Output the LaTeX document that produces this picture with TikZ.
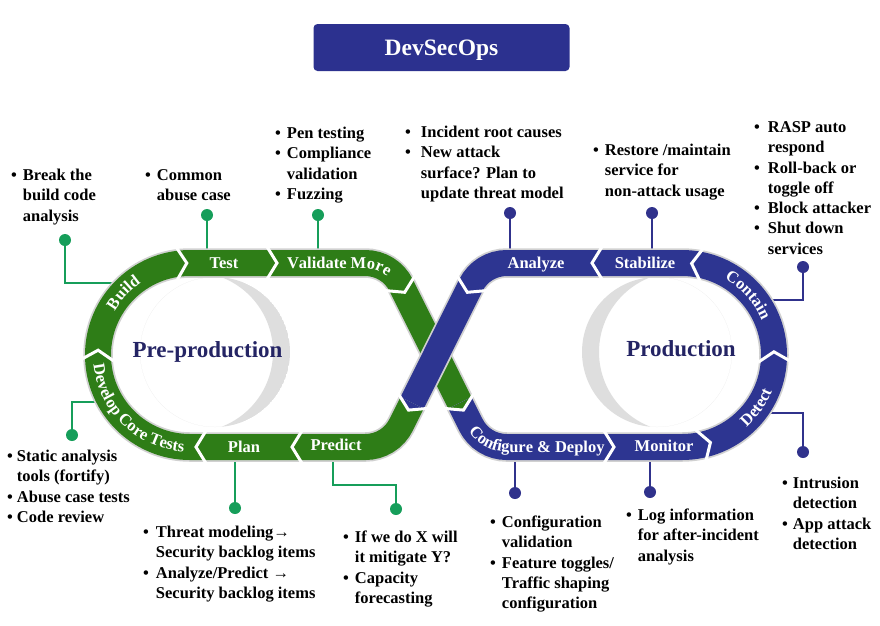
\documentclass[tikz,border=0pt]{standalone}
\usepackage{fontspec}
\setmainfont{Liberation Serif}
\usetikzlibrary{decorations.text}

\definecolor{bandgreen}{RGB}{46,125,23}
\definecolor{bandblue}{RGB}{45,53,145}
\definecolor{titleblue}{RGB}{44,49,143}
\definecolor{navytext}{RGB}{36,36,100}
\definecolor{calloutgreen}{RGB}{22,158,90}
\definecolor{calloutblue}{RGB}{48,50,140}

\newcommand{\bandfont}{\fontsize{16.5}{20}\selectfont\bfseries}
\newcommand{\notefont}{\fontsize{16.5}{20.3}\selectfont\bfseries}
% white chevron-shaped cut between two band pieces (tip point, flow direction)
\newcommand{\chevgap}[2]{\draw[gapline, shift={(#1)}, rotate={-(#2)}] (-9.85,16) -- (0,0) -- (-9.85,-16);}
% arrow tip of a band piece where the colour changes
\newcommand{\chevtip}[3]{\fill[#3, shift={(#1)}, rotate={-(#2)}] (-8,13) -- (0,0) -- (-8,-13) -- cycle;}
\newcommand{\bulletlist}[2]{\begin{tabular}{@{}l@{\hspace{#1}}l@{}}#2\end{tabular}}
\newcommand{\amp}{\&}

\tikzset{
  titlebox/.style={fill=titleblue, rounded corners=4pt, minimum width=256pt,
    minimum height=47pt, inner sep=0pt, text=white,
    font=\fontsize{23.5}{26}\selectfont\bfseries, text height=15pt, text depth=0pt},
  ring/.style={fill=black!13},
  greenloop/.style={draw=bandgreen, line width=26pt,
    preaction={draw=black!18, line width=29.5pt}},
  blueloop/.style={draw=bandblue, line width=26pt,
    preaction={draw=black!18, line width=29.5pt}},
  gapline/.style={draw=white, line width=3pt, line join=miter},
  bandlabel/.style={text=white, font=\bandfont, inner sep=0pt, anchor=base},
  phaselabel/.style={text=navytext, font=\fontsize{23}{26}\selectfont\bfseries,
    inner sep=0pt, anchor=base},
  gline/.style={draw=calloutgreen, line width=2pt},
  bline/.style={draw=calloutblue, line width=2pt},
  gdot/.style={circle, fill=calloutgreen, minimum size=12pt, inner sep=0pt},
  bdot/.style={circle, fill=calloutblue, minimum size=12pt, inner sep=0pt},
  note/.style={font=\notefont, inner sep=0pt, anchor=north west},
}

\begin{document}
\begin{tikzpicture}[x=1pt,y=-1pt]
\useasboundingbox (0,0) rectangle (880,625);
\fill[white] (0,0) rectangle (880,625);

% title
\node[titlebox] (title) at (441.5,47.5) {DevSecOps};

% grey crescents inside both loops
\begin{scope}
  \clip (215,352) circle[radius=75];
  \fill[ring, even odd rule] (215,352) circle[radius=75] (193,352) circle[radius=80];
\end{scope}
\begin{scope}
  \clip (657,352) circle[radius=75];
  \fill[ring, even odd rule] (657,352) circle[radius=75] (679,352) circle[radius=80];
\end{scope}

% callout dots
\node[gdot] (dBuild) at (65,240) {};
\node[gdot] (dTest) at (207,215) {};
\node[gdot] (dValidate) at (318,215) {};
\node[bdot] (dAnalyze) at (510,213) {};
\node[bdot] (dStabilize) at (652,213) {};
\node[bdot] (dContain) at (803,267) {};
\node[bdot] (dDetect) at (803,452) {};
\node[bdot] (dMonitor) at (650,492) {};
\node[bdot] (dConfigure) at (515,493) {};
\node[gdot] (dPredict) at (396,509) {};
\node[gdot] (dPlan) at (235,508) {};
\node[gdot] (dDevelop) at (72,435) {};

% where the callout lines meet the loop
\coordinate (aBuild) at (118,283);
\coordinate (aTest) at (207,258);
\coordinate (aValidate) at (318,258);
\coordinate (aAnalyze) at (510,258);
\coordinate (aStabilize) at (652,258);
\coordinate (aContain) at (765,300);
\coordinate (aDetect) at (765,413);
\coordinate (aMonitor) at (650,452);
\coordinate (aConfigure) at (515,452);
\coordinate (aPredict) at (333,452);
\coordinate (aPlan) at (235,452);
\coordinate (aDevelop) at (102,402);

% callout lines (they tuck under the loop)
\draw[gline] (aBuild) -| (dBuild);
\draw[gline] (aTest) -- (dTest);
\draw[gline] (aValidate) -- (dValidate);
\draw[bline] (aAnalyze) -- (dAnalyze);
\draw[bline] (aStabilize) -- (dStabilize);
\draw[bline] (aContain) -| (dContain);
\draw[bline] (aDetect) -| (dDetect);
\draw[bline] (aMonitor) -- (dMonitor);
\draw[bline] (aConfigure) -- (dConfigure);
\draw[gline] (aPredict) -- ++(0,33) -| (dPredict);
\draw[gline] (aPlan) -- (dPlan);
\draw[gline] (aDevelop) -| (dDevelop);

% pre-production loop (green)
\draw[greenloop] (412.1,402.9) -- (401.1,424.9)
  arc[start angle=26.57, end angle=90, radius=40] -- (190,447)
  arc[start angle=90, end angle=270, radius=92] -- (365.3,263)
  arc[start angle=270, end angle=333.43, radius=40] -- (459.9,402.9);

% production loop (blue), crossing over the green strand
\draw[blueloop] (459.9,402.9) -- (470.9,424.9)
  arc[start angle=153.43, end angle=90, radius=40] -- (682,447)
  arc[start angle=90, end angle=-90, radius=92] -- (506.7,263)
  arc[start angle=270, end angle=206.57, radius=40] -- (412.1,402.9);

% tips where one colour hands over to the other
\chevtip{463.5,410.1}{63.43}{bandgreen}
\chevtip{408.5,410.1}{116.57}{bandblue}

% cuts between the stages
\chevgap{408.5,410.1}{116.57}
\chevgap{292,447}{180}
\chevgap{196,447}{180}
\chevgap{98.1,350.2}{273}
\chevgap{186.8,263.1}{358}
\chevgap{277,263}{0}
\chevgap{404.7,292.3}{63.43}
\chevgap{463.5,410.1}{63.43}
\chevgap{614,447}{0}
\chevgap{710.4,442.5}{-18}
\chevgap{773.9,351.8}{-92}
\chevgap{691.6,263.5}{-174}
\chevgap{592,263}{180}
\chevgap{467.3,292.3}{116.57}

% stage names
\node[bandlabel] (lTest) at (224,268.5) {Test};
\node[bandlabel] (lPlan) at (244,452.5) {Plan};
\node[bandlabel] (lPredict) at (336,450) {Predict};
\node[bandlabel] (lAnalyze) at (536,268.5) {Analyze};
\node[bandlabel] (lStabilize) at (645,268.5) {Stabilize};
\node[bandlabel] (lMonitor) at (664,451) {Monitor};

\path[decorate, decoration={text along path,
    text={|\bandfont\color{white}|Validate More}, text align={left, left indent=1pt}}]
  (286,268.5) -- (365.3,268.5) arc[start angle=270, end angle=335, radius=34.5];
\path[decorate, decoration={text along path,
    text={|\bandfont\color{white}|Build}, text align=center}]
  ([shift={(190,355)}]200:87) arc[start angle=200, end angle=246, radius=87];
\path[decorate, decoration={text along path,
    text={|\bandfont\color{white}|Develop Core Tests}, text align=center}]
  ([shift={(190,355)}]180:97) arc[start angle=180, end angle=88, radius=97];
\path[decorate, decoration={text along path,
    text={|\bandfont\color{white}|Contain}, text align=center}]
  ([shift={(682,355)}]-72:87) arc[start angle=-72, end angle=-12, radius=87];
\path[decorate, decoration={text along path,
    text={|\bandfont\color{white}|Detect}, text align=center}]
  ([shift={(682,355)}]60:97) arc[start angle=60, end angle=10, radius=97];
\path[decorate, decoration={text along path,
    text={|\bandfont\color{white}|Configure {\amp} Deploy}, text align={left, left indent=2pt}}]
  ([shift={(506.7,407)}]150:45) arc[start angle=150, end angle=90, radius=45] -- (625,452);

% loop names
\node[phaselabel] (pre) at (207.5,357) {Pre-production};
\node[phaselabel] (prod) at (681,356) {Production};

% callout texts
\node[note] (nBuild) at (11,166) {\bulletlist{6pt}{•&Break the\\&build code\\&analysis}};
\node[note] (nTest) at (145,166) {\bulletlist{6pt}{•&Common\\&abuse case}};
\node[note] (nValidate) at (275,124) {\bulletlist{6pt}{•&Pen testing\\•&Compliance\\&validation\\•&Fuzzing}};
\node[note] (nAnalyze) at (405,123) {\bulletlist{10pt}{•&Incident root causes\\•&New attack\\&surface? Plan to\\&update threat model}};
\node[note] (nStabilize) at (593,141) {\bulletlist{6pt}{•&Restore /maintain\\&service for\\&non-attack usage}};
\node[note] (nContain) at (754,118) {\bulletlist{8pt}{•&RASP auto\\&respond\\•&Roll-back or\\&toggle off\\•&Block attacker\\•&Shut down\\&services}};
\node[note] (nDetect) at (782,474) {\bulletlist{5pt}{•&Intrusion\\&detection\\•&App attack\\&detection}};
\node[note] (nMonitor) at (626,506) {\bulletlist{6pt}{•&Log information\\&for after-incident\\&analysis}};
\node[note] (nConfigure) at (490,513) {\bulletlist{6pt}{•&Configuration\\&validation\\•&Feature toggles/\\&Traffic shaping\\&configuration}};
\node[note] (nPredict) at (343,528) {\bulletlist{6pt}{•&If we do X will\\&it mitigate Y?\\•&Capacity\\&forecasting}};
\node[note] (nPlan) at (143,523) {\bulletlist{7pt}{•&Threat modeling→\\&Security backlog items\\•&Analyze/Predict →\\&Security backlog items}};
\node[note] (nDevelop) at (7,447) {\bulletlist{4pt}{•&Static analysis\\&tools (fortify)\\•&Abuse case tests\\•&Code review}};
\end{tikzpicture}
\end{document}
